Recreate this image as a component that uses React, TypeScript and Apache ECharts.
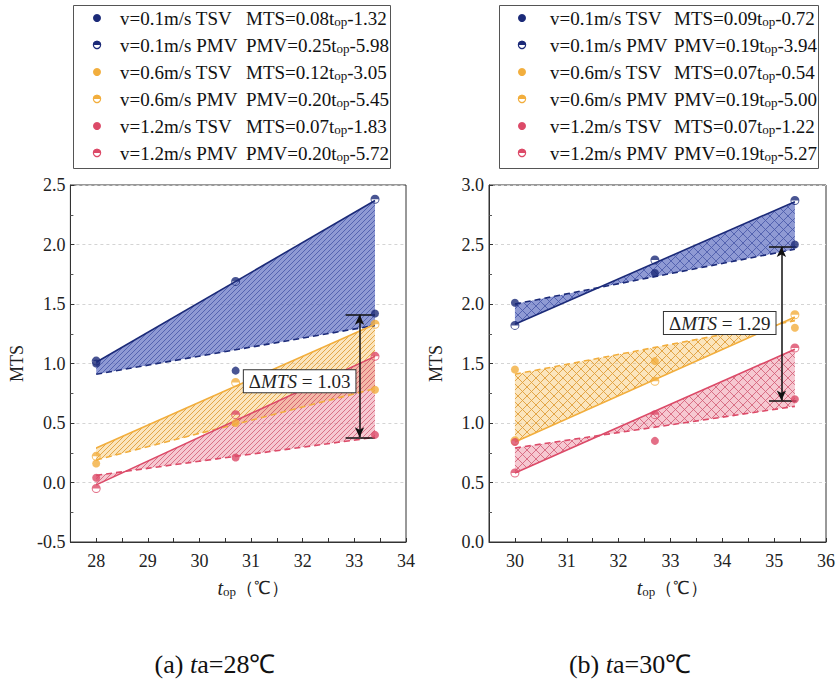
import React, { useEffect, useRef } from 'react';
import * as echarts from 'echarts';

const FONT = 'Liberation Serif, Times New Roman, serif';

// ---------- names / legend text ----------
const seriesNames = [
  'v=0.1m/s TSV', 'v=0.1m/s PMV',
  'v=0.6m/s TSV', 'v=0.6m/s PMV',
  'v=1.2m/s TSV', 'v=1.2m/s PMV',
];
const eqHeadA = ['MTS=0.08t', 'PMV=0.25t', 'MTS=0.12t', 'PMV=0.20t', 'MTS=0.07t', 'PMV=0.20t'];
const eqTailA = ['-1.32', '-5.98', '-3.05', '-5.45', '-1.83', '-5.72'];
const eqHeadB = ['MTS=0.09t', 'PMV=0.19t', 'MTS=0.07t', 'PMV=0.19t', 'MTS=0.07t', 'PMV=0.19t'];
const eqTailB = ['-0.72', '-3.94', '-0.54', '-5.00', '-1.22', '-5.27'];

// ---------- (a) ta = 28 ----------
const xA = [28, 30.7, 33.4];
const tsvA01 = [1.0, 0.94, 1.42];
const pmvA01 = [1.02, 1.69, 2.38];
const tsvA06 = [0.16, 0.5, 0.78];
const pmvA06 = [0.22, 0.84, 1.33];
const tsvA12 = [0.04, 0.21, 0.4];
const pmvA12 = [-0.05, 0.57, 1.06];
const fitXA = [28, 33.4];
const pmvFitA01 = [1.01, 2.37];
const tsvFitA01 = [0.91, 1.32];
const pmvFitA06 = [0.29, 1.33];
const tsvFitA06 = [0.19, 0.79];
const pmvFitA12 = [-0.02, 1.06];
const tsvFitA12 = [0.06, 0.38];

// ---------- (b) ta = 30 ----------
const xB = [30, 32.7, 35.4];
const tsvB01 = [2.01, 2.26, 2.5];
const pmvB01 = [1.82, 2.37, 2.87];
const tsvB06 = [1.45, 1.52, 1.8];
const pmvB06 = [0.85, 1.35, 1.91];
const tsvB12 = [0.84, 0.85, 1.2];
const pmvB12 = [0.58, 1.07, 1.63];
const fitXB = [30, 35.4];
const pmvFitB01 = [1.83, 2.86];
const tsvFitB01 = [2.0, 2.46];
const pmvFitB06 = [0.84, 1.89];
const tsvFitB06 = [1.41, 1.86];
const pmvFitB12 = [0.58, 1.62];
const tsvFitB12 = [0.79, 1.14];

// ---------- axes ----------
const xRangeA = [27.5, 34];
const yRangeA = [-0.5, 2.5];
const xRangeB = [29.5, 36];
const yRangeB = [0, 3];

// annotations
const deltaA = { x: 33.1, top: 1.41, bottom: 0.38, capL: 32.83, capR: 33.4, lx: 31.94, ly: 0.85, text: '1.03' };
const deltaB = { x: 35.14, top: 2.48, bottom: 1.19, capL: 34.9, capR: 35.43, lx: 33.95, ly: 1.84, text: '1.29' };

const COLORS = ['#1b2a78', '#f2ae3d', '#dc4a68'];
const FILL_BG = ['rgba(100,115,195,0.72)', 'rgba(246,190,90,0.4)', 'rgba(232,110,135,0.38)'];
const FILL_LINE = ['rgba(75,90,170,0.85)', 'rgba(225,160,60,0.9)', 'rgba(210,90,115,0.8)'];

const HALF =
  'path://M1,10 A9,9 0 0 1 19,10 Z M1,10 L3,10 A7,7 0 0 0 17,10 L19,10 A9,9 0 0 1 1,10 Z';

function hatch(line: string, bg: string, cross: boolean, size: number) {
  const c = document.createElement('canvas');
  c.width = size;
  c.height = size;
  const g = c.getContext('2d')!;
  g.fillStyle = bg;
  g.fillRect(0, 0, size, size);
  g.strokeStyle = line;
  g.lineWidth = 1;
  g.beginPath();
  g.moveTo(-1, size + 1);
  g.lineTo(size + 1, -1);
  g.moveTo(-1, 1);
  g.lineTo(1, -1);
  g.moveTo(size - 1, size + 1);
  g.lineTo(size + 1, size - 1);
  if (cross) {
    g.moveTo(-1, -1);
    g.lineTo(size + 1, size + 1);
    g.moveTo(size - 1, -1);
    g.lineTo(size + 1, 1);
    g.moveTo(-1, size - 1);
    g.lineTo(1, size + 1);
  }
  g.stroke();
  return { image: c, repeat: 'repeat', imageWidth: size, imageHeight: size };
}

type Cfg = {
  x: number[];
  tsv: number[][];
  pmv: number[][];
  fitX: number[];
  pmvFit: number[][];
  tsvFit: number[][];
  xRange: number[];
  yRange: number[];
  eqHead: string[];
  eqTail: string[];
  delta: typeof deltaA;
  cross: boolean;
  gridLeft: number;
  gridWidth: number;
  legendBox: number[]; // x, y, w, h
  markerX: number;
  nameX: number;
  eqX: number;
  caption: string[];
  captionX: number;
};

function legendGraphic(cfg: Cfg): any[] {
  const [bx, by, bw, bh] = cfg.legendBox;
  const els: any[] = [
    {
      type: 'rect',
      shape: { x: bx + 0.5, y: by + 0.5, width: bw, height: bh },
      style: { fill: '#fff', stroke: '#555', lineWidth: 1 },
      z: 10,
    },
  ];
  seriesNames.forEach((name, i) => {
    const cy = by + 13 + i * 27;
    const color = COLORS[Math.floor(i / 2)];
    if (i % 2 === 0) {
      els.push({ type: 'circle', shape: { cx: cfg.markerX, cy, r: 4 }, style: { fill: color }, z: 11 });
    } else {
      els.push({
        type: 'circle',
        shape: { cx: cfg.markerX, cy, r: 3.6 },
        style: { fill: 'rgba(255,255,255,0.9)', stroke: color, lineWidth: 1.2 },
        z: 11,
      });
      els.push({
        type: 'sector',
        shape: { cx: cfg.markerX, cy, r0: 0, r: 4.2, startAngle: Math.PI, endAngle: Math.PI * 2, clockwise: true },
        style: { fill: color },
        z: 12,
      });
    }
    els.push({
      type: 'text',
      x: cfg.nameX,
      y: cy,
      z: 11,
      style: {
        text: name,
        fontFamily: FONT,
        fontSize: 19,
        fill: '#111',
        verticalAlign: 'middle',
        textVerticalAlign: 'middle',
      },
    });
    els.push({
      type: 'text',
      x: cfg.eqX,
      y: cy,
      z: 11,
      style: {
        text: '{e|' + cfg.eqHead[i] + '}{s|op}{e|' + cfg.eqTail[i] + '}',
        fontFamily: FONT,
        fontSize: 19,
        fill: '#111',
        verticalAlign: 'middle',
        textVerticalAlign: 'middle',
        rich: {
          e: { fontFamily: FONT, fontSize: 19, lineHeight: 20, fill: '#111', color: '#111' },
          s: { fontFamily: FONT, fontSize: 13, lineHeight: 10, verticalAlign: 'bottom', fill: '#111', color: '#111' },
        },
      },
    });
  });
  return els;
}

function buildOption(cfg: Cfg): any {
  const series: any[] = [];
  // fills
  for (let k = 0; k < 3; k++) {
    const solid = cfg.pmvFit[k];
    const dashed = cfg.tsvFit[k];
    const fx = cfg.fitX;
    const pattern = hatch(FILL_LINE[k], FILL_BG[k], cfg.cross, cfg.cross ? 9 : 5);
    series.push({
      type: 'custom',
      name: 'fill' + k,
      z: 1,
      silent: true,
      data: [[fx[0], solid[0], dashed[0]]],
      renderItem: (_p: any, api: any) => {
        const pts = [
          api.coord([fx[0], solid[0]]),
          api.coord([fx[1], solid[1]]),
          api.coord([fx[1], dashed[1]]),
          api.coord([fx[0], dashed[0]]),
        ];
        return { type: 'polygon', shape: { points: pts }, style: { fill: pattern, stroke: 'none' } };
      },
    });
  }
  // fit lines
  for (let k = 0; k < 3; k++) {
    series.push({
      type: 'line',
      name: 'pmvfit' + k,
      z: 3,
      symbol: 'none',
      data: cfg.fitX.map((v, i) => [v, cfg.pmvFit[k][i]]),
      lineStyle: { color: COLORS[k], width: 1.6, type: 'solid' },
    });
    const s: any = {
      type: 'line',
      name: 'tsvfit' + k,
      z: 3,
      symbol: 'none',
      data: cfg.fitX.map((v, i) => [v, cfg.tsvFit[k][i]]),
      lineStyle: { color: COLORS[k], width: 1.6, type: [6, 4] },
    };
    if (k === 2) {
      const d = cfg.delta;
      s.markLine = {
        silent: true,
        symbol: ['arrow', 'arrow'],
        symbolSize: [7, 10],
        label: { show: false },
        lineStyle: { color: '#111', width: 1.5, type: 'solid' },
        data: [
          [{ coord: [d.x, d.top] }, { coord: [d.x, d.bottom] }],
          [{ coord: [d.capL, d.top], symbol: 'none' }, { coord: [d.capR, d.top], symbol: 'none' }],
          [{ coord: [d.capL, d.bottom], symbol: 'none' }, { coord: [d.capR, d.bottom], symbol: 'none' }],
        ],
      };
      s.markPoint = {
        silent: true,
        symbol: 'circle',
        symbolSize: 1,
        itemStyle: { color: 'rgba(0,0,0,0)' },
        label: {
          show: true,
          position: 'inside',
          formatter: '{d|Δ}{i|MTS}{d| = ' + d.text + '}',
          backgroundColor: '#fff',
          borderColor: '#333',
          borderWidth: 1,
          padding: [2, 5, 1, 5],
          rich: {
            d: { fontFamily: FONT, fontSize: 19, color: '#222' },
            i: { fontFamily: FONT, fontSize: 19, fontStyle: 'italic', color: '#222' },
          },
        },
        data: [{ coord: [d.lx, d.ly] }],
      };
    }
    series.push(s);
  }
  // scatter points
  for (let k = 0; k < 3; k++) {
    series.push({
      type: 'scatter',
      name: seriesNames[2 * k],
      z: 5,
      symbol: 'circle',
      symbolSize: 8,
      itemStyle: { color: COLORS[k] },
      data: cfg.x.map((v, i) => [v, cfg.tsv[k][i]]),
    });
    series.push({
      type: 'scatter',
      name: seriesNames[2 * k + 1],
      z: 5,
      symbol: HALF,
      symbolSize: 9,
      itemStyle: { color: COLORS[k] },
      data: cfg.x.map((v, i) => [v, cfg.pmv[k][i]]),
    });
  }

  return {
    animation: false,
    backgroundColor: '#fff',
    textStyle: { fontFamily: FONT },
    grid: {
      left: cfg.gridLeft,
      top: 185,
      width: cfg.gridWidth,
      height: 357,
      show: true,
      borderColor: '#333',
      borderWidth: 1,
      backgroundColor: 'transparent',
    },
    xAxis: {
      type: 'value',
      min: cfg.xRange[0],
      max: cfg.xRange[1],
      interval: 0.5,
      name: '{i|t}{s|op}{n|（℃）}',
      nameLocation: 'middle',
      nameGap: 36,
      nameTextStyle: {
        fontFamily: FONT,
        fontSize: 20,
        color: '#222',
        padding: [0, 0, 0, 30],
        rich: {
          i: { fontFamily: FONT, fontSize: 20, fontStyle: 'italic', color: '#222' },
          s: { fontFamily: FONT, fontSize: 13, lineHeight: 10, verticalAlign: 'bottom', color: '#222' },
          n: { fontFamily: FONT, fontSize: 18, color: '#222' },
        },
      },
      axisLine: { onZero: false, lineStyle: { color: '#333', width: 1 } },
      axisTick: { inside: true, length: 4, lineStyle: { color: '#333' } },
      axisLabel: {
        fontFamily: FONT,
        fontSize: 18,
        color: '#222',
        margin: 10,
        formatter: (v: number) => (Number.isInteger(v) ? String(v) : ''),
      },
      splitLine: { show: false },
    },
    yAxis: {
      type: 'value',
      min: cfg.yRange[0],
      max: cfg.yRange[1],
      interval: 0.5,
      name: 'MTS',
      nameLocation: 'middle',
      nameGap: 44,
      nameRotate: 90,
      nameTextStyle: { fontFamily: FONT, fontSize: 18, color: '#222' },
      axisLine: { onZero: false, lineStyle: { color: '#333', width: 1 } },
      axisTick: { inside: true, length: 4, lineStyle: { color: '#333' } },
      minorTick: { show: true, splitNumber: 2, length: 3, lineStyle: { color: '#555' } },
      axisLabel: {
        fontFamily: FONT,
        fontSize: 18,
        color: '#222',
        margin: 5,
        formatter: (v: number) => v.toFixed(1),
      },
      splitLine: { show: true, lineStyle: { color: '#d4d4d4', type: [3, 3], width: 1 } },
    },
    graphic: [
      ...legendGraphic(cfg),
      {
        type: 'text',
        x: cfg.captionX,
        y: 664,
        style: {
          text: cfg.caption[0] + '{i|t}' + cfg.caption[1],
          fontFamily: FONT,
          fontSize: 26,
          fill: '#111',
          align: 'center',
          textAlign: 'center',
          verticalAlign: 'middle',
          textVerticalAlign: 'middle',
          rich: {
            i: { fontFamily: FONT, fontSize: 26, fontStyle: 'italic', fill: '#111', color: '#111' },
          },
        },
      },
    ],
    series,
  };
}

const cfgA: Cfg = {
  x: xA,
  tsv: [tsvA01, tsvA06, tsvA12],
  pmv: [pmvA01, pmvA06, pmvA12],
  fitX: fitXA,
  pmvFit: [pmvFitA01, pmvFitA06, pmvFitA12],
  tsvFit: [tsvFitA01, tsvFitA06, tsvFitA12],
  xRange: xRangeA,
  yRange: yRangeA,
  eqHead: eqHeadA,
  eqTail: eqTailA,
  delta: deltaA,
  cross: false,
  gridLeft: 68,
  gridWidth: 338,
  legendBox: [73, 5, 317, 163],
  markerX: 97,
  nameX: 120,
  eqX: 246,
  caption: ['(a) ', 'a=28℃'],
  captionX: 215,
};

const cfgB: Cfg = {
  x: xB,
  tsv: [tsvB01, tsvB06, tsvB12],
  pmv: [pmvB01, pmvB06, pmvB12],
  fitX: fitXB,
  pmvFit: [pmvFitB01, pmvFitB06, pmvFitB12],
  tsvFit: [tsvFitB01, tsvFitB06, tsvFitB12],
  xRange: xRangeB,
  yRange: yRangeB,
  eqHead: eqHeadB,
  eqTail: eqTailB,
  delta: deltaB,
  cross: true,
  gridLeft: 69,
  gridWidth: 339,
  legendBox: [80, 5, 319, 163],
  markerX: 103,
  nameX: 131,
  eqX: 255,
  caption: ['(b) ', 'a=30℃'],
  captionX: 211,
};

function Panel({ cfg, left }: { cfg: Cfg; left: number }) {
  const ref = useRef<HTMLDivElement>(null);
  useEffect(() => {
    if (!ref.current) return;
    const chart = echarts.init(ref.current, undefined, { renderer: 'svg' });
    chart.setOption(buildOption(cfg));
    return () => chart.dispose();
  }, [cfg]);
  return (
    <div
      ref={ref}
      style={{ position: 'absolute', left, top: 0, width: 419, height: 686 }}
    />
  );
}

export default function App() {
  return (
    <div style={{ position: 'fixed', left: 0, top: 0, width: 838, height: 686, background: '#fff' }}>
      <Panel cfg={cfgA} left={0} />
      <Panel cfg={cfgB} left={419} />
    </div>
  );
}
